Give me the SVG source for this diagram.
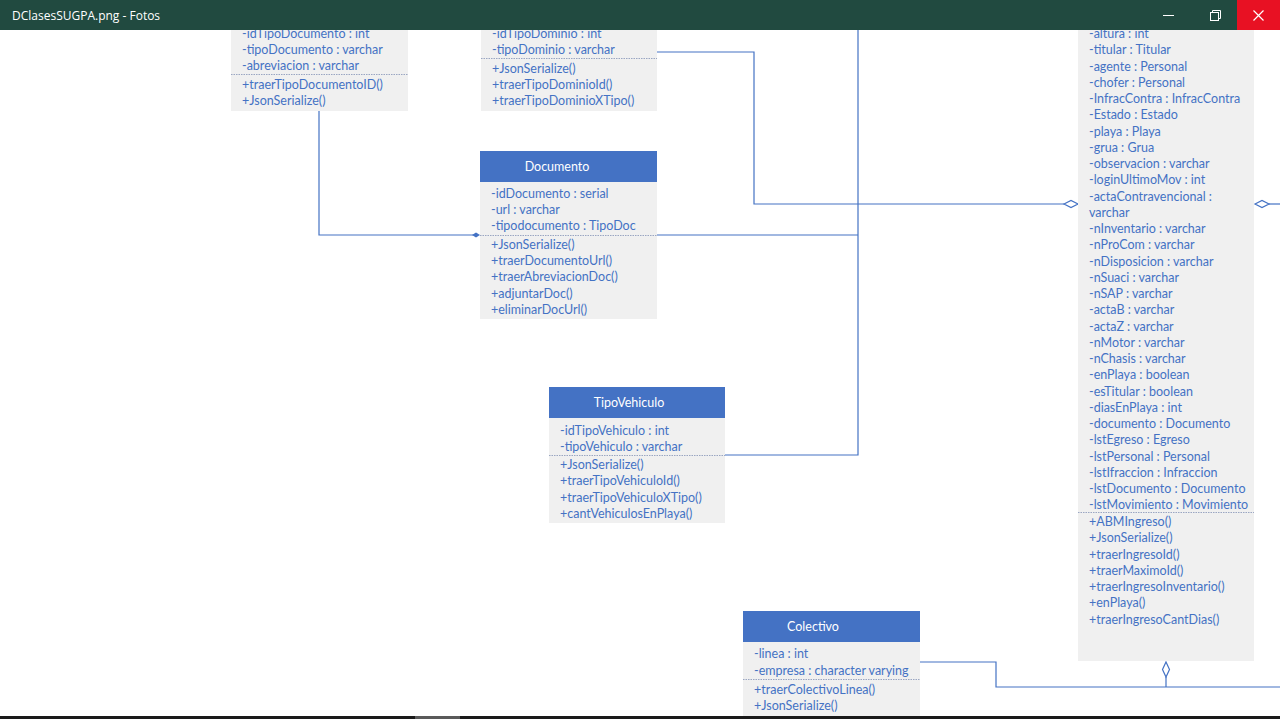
<svg xmlns="http://www.w3.org/2000/svg" width="1280" height="719" viewBox="0 0 1280 719">
  <style>
    .body { fill: #f0f0f0; }
    .head { fill: #4472c4; }
    .title { font-family: Lato, "Liberation Sans", sans-serif; font-size: 12.5px; fill: #ffffff; text-anchor: middle; }
    .t { font-family: Lato, "Liberation Sans", sans-serif; font-size: 12.5px; fill: #4472c4; }
    .sep { stroke: #9aa6c2; stroke-width: 1; stroke-dasharray: 1.5 1; }
    .conn { fill: none; stroke: #4472c4; stroke-width: 1.2; }
    .bar { font-family: "Open Sans", "Liberation Sans", sans-serif; font-size: 12px; fill: #ffffff; }
  </style>
  <defs>
    <marker id="hollowDiamondH" markerWidth="16" markerHeight="10" refX="15" refY="5" orient="auto" markerUnits="userSpaceOnUse">
      <path d="M1,5 L8,1.5 L15,5 L8,8.5 Z" fill="#ffffff" stroke="#4472c4" stroke-width="1.2"/>
    </marker>
  </defs>

  <rect width="1280" height="719" fill="#ffffff"/>

  <!-- connectors -->
  <g id="connectors">
    <!-- TipoDocumento to Documento (composition) -->
    <polyline class="conn" points="319,111 319,235 474,235"/>
    <path d="M472,235 L476,232.5 L480,235 L476,237.5 Z" fill="#4472c4"/>
    <!-- Documento / TipoVehiculo trunk -->
    <polyline class="conn" points="657,235 858,235"/>
    <polyline class="conn" points="858,30 858,455 725,455"/>
    <!-- TipoDominio to Ingreso (aggregation) -->
    <polyline class="conn" points="657,52 754,52 754,204 1064,204"/>
    <path d="M1064,204 L1071,200.5 L1078,204 L1071,207.5 Z" fill="#ffffff" stroke="#4472c4" stroke-width="1.2"/>
    <!-- Ingreso to the right -->
    <path d="M1255,204 L1262,200.5 L1269,204 L1262,207.5 Z" fill="#ffffff" stroke="#4472c4" stroke-width="1.2"/>
    <polyline class="conn" points="1269,204 1280,204"/>
    <!-- Colectivo to Ingreso (aggregation) -->
    <polyline class="conn" points="920,662 996,662 996,687 1280,687"/>
    <path d="M1166,662 L1169.5,669.5 L1166,677 L1162.5,669.5 Z" fill="#ffffff" stroke="#4472c4" stroke-width="1.2"/>
    <polyline class="conn" points="1166,677 1166,687"/>
  </g>

  <!-- TipoDocumento -->
  <g id="TipoDocumento">
    <rect class="body" x="231" y="20" width="177" height="91"/>
    <text class="t" x="242" y="38">-idTipoDocumento : int</text>
    <text class="t" x="242" y="54">-tipoDocumento : varchar</text>
    <text class="t" x="242" y="70">-abreviacion : varchar</text>
    <line class="sep" x1="231" y1="74.5" x2="408" y2="74.5"/>
    <text class="t" x="242" y="89">+traerTipoDocumentoID()</text>
    <text class="t" x="242" y="105">+JsonSerialize()</text>
  </g>

  <!-- TipoDominio -->
  <g id="TipoDominio">
    <rect class="body" x="481" y="20" width="176" height="91"/>
    <text class="t" x="492" y="38">-idTipoDominio : int</text>
    <text class="t" x="492" y="54">-tipoDominio : varchar</text>
    <line class="sep" x1="481" y1="58.5" x2="657" y2="58.5"/>
    <text class="t" x="492" y="73">+JsonSerialize()</text>
    <text class="t" x="492" y="89">+traerTipoDominioId()</text>
    <text class="t" x="492" y="105">+traerTipoDominioXTipo()</text>
  </g>

  <!-- Documento -->
  <g id="Documento">
    <rect class="head" x="480" y="151" width="177" height="31"/>
    <text class="title" x="557" y="171">Documento</text>
    <rect class="body" x="480" y="182" width="177" height="137"/>
    <text class="t" x="491" y="198">-idDocumento : serial</text>
    <text class="t" x="491" y="214">-url : varchar</text>
    <text class="t" x="491" y="230">-tipodocumento : TipoDoc</text>
    <line class="sep" x1="480" y1="235.5" x2="657" y2="235.5"/>
    <text class="t" x="491" y="249">+JsonSerialize()</text>
    <text class="t" x="491" y="265">+traerDocumentoUrl()</text>
    <text class="t" x="491" y="281">+traerAbreviacionDoc()</text>
    <text class="t" x="491" y="298">+adjuntarDoc()</text>
    <text class="t" x="491" y="314">+eliminarDocUrl()</text>
  </g>

  <!-- TipoVehiculo -->
  <g id="TipoVehiculo">
    <rect class="head" x="549" y="387" width="176" height="31"/>
    <text class="title" x="629" y="407">TipoVehiculo</text>
    <rect class="body" x="549" y="418" width="176" height="105"/>
    <text class="t" x="560" y="435">-idTipoVehiculo : int</text>
    <text class="t" x="560" y="451">-tipoVehiculo : varchar</text>
    <line class="sep" x1="549" y1="455.5" x2="725" y2="455.5"/>
    <text class="t" x="560" y="469">+JsonSerialize()</text>
    <text class="t" x="560" y="485">+traerTipoVehiculoId()</text>
    <text class="t" x="560" y="502">+traerTipoVehiculoXTipo()</text>
    <text class="t" x="560" y="518">+cantVehiculosEnPlaya()</text>
  </g>

  <!-- Colectivo -->
  <g id="Colectivo">
    <rect class="head" x="743" y="611" width="177" height="31"/>
    <text class="title" x="813" y="631">Colectivo</text>
    <rect class="body" x="743" y="642" width="177" height="77"/>
    <text class="t" x="754" y="658">-linea : int</text>
    <text class="t" x="754" y="675">-empresa : character varying</text>
    <line class="sep" x1="743" y1="679.5" x2="920" y2="679.5"/>
    <text class="t" x="754" y="694">+traerColectivoLinea()</text>
    <text class="t" x="754" y="710">+JsonSerialize()</text>
  </g>

  <!-- Ingreso -->
  <g id="Ingreso">
    <rect class="body" x="1078" y="20" width="176" height="641"/>
    <text class="t" x="1089" y="38">-altura : int</text>
    <text class="t" x="1089" y="54.25">-titular : Titular</text>
    <text class="t" x="1089" y="70.5">-agente : Personal</text>
    <text class="t" x="1089" y="86.75">-chofer : Personal</text>
    <text class="t" x="1089" y="103">-InfracContra : InfracContra</text>
    <text class="t" x="1089" y="119.25">-Estado : Estado</text>
    <text class="t" x="1089" y="135.5">-playa : Playa</text>
    <text class="t" x="1089" y="151.75">-grua : Grua</text>
    <text class="t" x="1089" y="168">-observacion : varchar</text>
    <text class="t" x="1089" y="184.25">-loginUltimoMov : int</text>
    <text class="t" x="1089" y="200.5">-actaContravencional :</text>
    <text class="t" x="1089" y="216.75">varchar</text>
    <text class="t" x="1089" y="233">-nInventario : varchar</text>
    <text class="t" x="1089" y="249.25">-nProCom : varchar</text>
    <text class="t" x="1089" y="265.5">-nDisposicion : varchar</text>
    <text class="t" x="1089" y="281.75">-nSuaci : varchar</text>
    <text class="t" x="1089" y="298">-nSAP : varchar</text>
    <text class="t" x="1089" y="314.25">-actaB : varchar</text>
    <text class="t" x="1089" y="330.5">-actaZ : varchar</text>
    <text class="t" x="1089" y="346.75">-nMotor : varchar</text>
    <text class="t" x="1089" y="363">-nChasis : varchar</text>
    <text class="t" x="1089" y="379.25">-enPlaya : boolean</text>
    <text class="t" x="1089" y="395.5">-esTitular : boolean</text>
    <text class="t" x="1089" y="411.75">-diasEnPlaya : int</text>
    <text class="t" x="1089" y="428">-documento : Documento</text>
    <text class="t" x="1089" y="444.25">-lstEgreso : Egreso</text>
    <text class="t" x="1089" y="460.5">-lstPersonal : Personal</text>
    <text class="t" x="1089" y="476.75">-lstIfraccion : Infraccion</text>
    <text class="t" x="1089" y="493">-lstDocumento : Documento</text>
    <text class="t" x="1089" y="509.25">-lstMovimiento : Movimiento</text>
    <line class="sep" x1="1078" y1="512.5" x2="1254" y2="512.5"/>
    <text class="t" x="1089" y="526">+ABMIngreso()</text>
    <text class="t" x="1089" y="542.25">+JsonSerialize()</text>
    <text class="t" x="1089" y="558.5">+traerIngresoId()</text>
    <text class="t" x="1089" y="574.75">+traerMaximoId()</text>
    <text class="t" x="1089" y="591">+traerIngresoInventario()</text>
    <text class="t" x="1089" y="607.25">+enPlaya()</text>
    <text class="t" x="1089" y="623.5">+traerIngresoCantDias()</text>
  </g>

  <!-- viewer window chrome -->
  <g id="titlebar">
    <rect x="0" y="0" width="1280" height="30" fill="#214a40"/>
    <text class="bar" x="12" y="20">DClasesSUGPA.png - Fotos</text>
    <line x1="1163" y1="15.5" x2="1174" y2="15.5" stroke="#ffffff" stroke-width="1"/>
    <rect x="1210.5" y="12.5" width="8" height="8" fill="none" stroke="#ffffff" stroke-width="1"/>
    <polyline points="1212.5,12.5 1212.5,10.5 1220.5,10.5 1220.5,18.5 1218.5,18.5" fill="none" stroke="#ffffff" stroke-width="1"/>
    <rect x="1237" y="0" width="43" height="30" fill="#e81123"/>
    <path d="M1253.5,10.5 L1263.5,20.5 M1263.5,10.5 L1253.5,20.5" stroke="#ffffff" stroke-width="1.2"/>
  </g>
  <g id="bottombar">
    <rect x="0" y="716" width="1280" height="3" fill="#1a1a1a"/>
    <rect x="415" y="716" width="45" height="3" fill="#5a5a5a"/>
  </g>
</svg>
